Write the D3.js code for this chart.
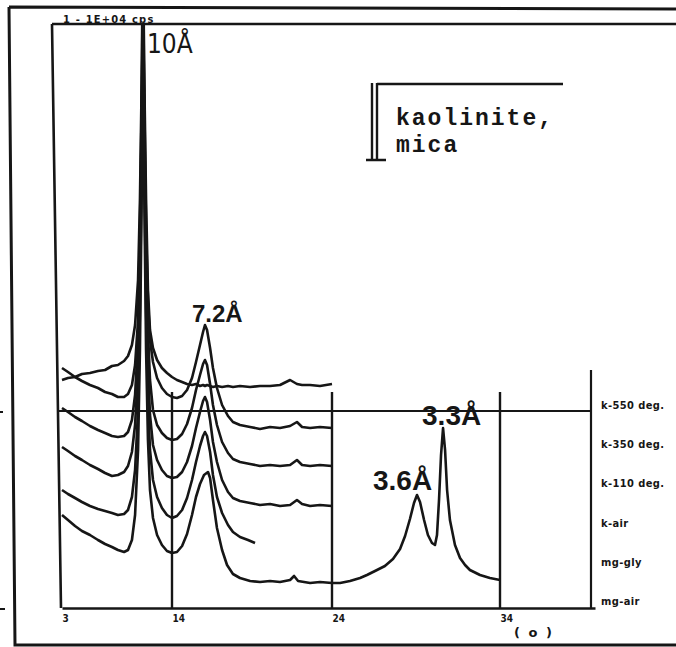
<!DOCTYPE html>
<html>
<head>
<meta charset="utf-8">
<script src="https://cdn.jsdelivr.net/npm/d3@7"></script>
<style>
body { margin: 0; background: #fff; }
svg { display: block; }
</style>
</head>
<body>
<div id="viz"></div>
<script>
// sample names, top trace first
var samples = ['k-550 deg.', 'k-350 deg.', 'k-110 deg.', 'k-air', 'mg-gly', 'mg-air'];

// 2-theta (deg) shared by the four k- scans
var twoTheta = [3.00,3.38,3.83,4.27,4.78,5.29,5.74,6.18,6.56,6.95,7.20,7.45,7.65,7.84,7.96,8.09,8.15,8.22,8.35,8.47,
  8.60,8.79,9.05,9.36,9.68,10.00,10.31,10.63,10.94,11.25,11.50,11.75,11.94,12.06,12.19,12.38,12.56,12.81,13.13,13.50,
  13.81,14.25,14.88,15.50,16.13,16.75,17.38,17.81,18.13,18.63,19.25,20.00];

// intensities (arbitrary units, offset stacked)
var k550 = [228,230,231,234,235,237,238,242,243,247,252,263,283,328,408,548,698,548,408,318,
  278,260,248,240,235,231,228,226,224,223,224,222,223,222,223,222,221,222,221,222,
  221,222,221,222,222,223,228,224,223,223,222,224];
var k350 = [240,236,231,227,223,220,216,214,211,211,214,223,243,288,378,528,698,528,378,308,
  268,246,230,220,214,211,210,212,218,230,246,263,276,283,278,260,240,220,203,192,
  186,183,181,179,181,180,182,186,181,180,181,180];
var k110 = [200,196,191,187,182,178,175,172,171,172,176,188,213,268,358,508,698,508,358,278,
  228,198,183,175,170,168,169,174,184,200,218,233,244,248,243,224,203,183,166,155,
  149,146,144,142,143,142,143,148,143,142,143,142];
var kAir = [161,157,152,148,143,139,135,132,133,136,142,156,183,238,328,488,698,488,328,243,
  193,163,148,138,132,130,131,136,146,162,180,196,207,211,206,188,166,146,128,116,
  110,107,105,103,104,102,103,108,104,102,103,102];

var twoThetaGly = [3.00,3.38,3.83,4.27,4.78,5.29,5.74,6.18,6.56,6.95,7.20,7.45,7.65,7.84,7.96,8.09,8.15,8.22,8.35,8.47,
  8.60,8.79,9.05,9.36,9.68,10.00,10.31,10.63,10.94,11.25,11.50,11.75,11.94,12.06,12.19,12.38,12.56,12.81,13.13,13.50,
  13.81,14.25,14.75,15.19];
var mgGly = [118,114,110,106,102,99,97,95,93,94,98,111,138,198,298,468,698,468,298,208,
  158,128,111,100,93,90,92,98,110,128,146,162,172,176,172,156,133,111,95,83,
  76,71,68,65];

var twoThetaAir = [3.00,3.38,3.83,4.27,4.78,5.29,5.74,6.18,6.56,6.95,7.20,7.45,7.65,7.84,7.96,8.09,8.15,8.22,8.35,8.47,
  8.60,8.79,9.05,9.36,9.68,10.00,10.31,10.63,10.94,11.25,11.50,11.75,12.00,12.25,12.38,12.56,12.81,13.13,13.44,13.81,
  14.25,14.88,15.50,16.13,16.75,17.38,17.63,17.88,18.63,19.25,20.00,20.48,21.07,21.67,22.08,22.56,23.15,23.63,24.05,24.35,
  24.64,24.88,25.06,25.24,25.48,25.71,25.95,26.13,26.25,26.37,26.49,26.61,26.73,26.85,27.02,27.32,27.62,27.92,28.21,28.81,
  29.40,30.00];
var mgAir = [93,88,82,77,73,68,64,61,58,56,58,68,93,158,258,438,698,438,258,168,
  118,90,73,63,57,55,56,62,74,93,111,124,133,136,130,108,80,58,43,34,
  30,27,26,27,26,28,32,27,25,26,25,25,27,30,33,37,42,49,59,72,
  89,105,113,106,88,73,65,63,73,108,153,180,158,118,88,63,50,43,38,33,
  30,28];

var tickValues = [3, 10, 20, 30];
var tickLabels = ['3', '14', '24', '34'];

var peakLabels = ['10Å', '7.2Å', '3.6Å', '3.3Å'];
var peakTheta = [8.15, 12.06, 25.06, 26.61];

var scans = [
  {x: twoTheta, y: k550},
  {x: twoTheta, y: k350},
  {x: twoTheta, y: k110},
  {x: twoTheta, y: kAir},
  {x: twoThetaGly, y: mgGly},
  {x: twoThetaAir, y: mgAir}
];

var ink = '#161616';
var width = 676, height = 647;

var svg = d3.select('#viz').append('svg')
  .attr('width', width)
  .attr('height', height);

// chart paper is a bit stretched, so the 2-theta scale is piecewise
var x = d3.scaleLinear()
  .domain([3, 10, 20, 30, 35.65])
  .range([62, 172, 332, 500, 595]);

var y = d3.scaleLinear()
  .domain([0, 583])
  .range([608, 25]);

// outer frame
svg.append('path')
  .attr('d', 'M9,7 L676,9 M9,7 L15,645 L676,645')
  .attr('fill', 'none').attr('stroke', ink).attr('stroke-width', 3);

// small marks on the far left
svg.append('path')
  .attr('d', 'M0,412 L3,412 M0,609 L5,609')
  .attr('stroke', ink).attr('stroke-width', 2);

// chart top line + left side
svg.append('path')
  .attr('d', 'M52,24 L676,24 M52,24 L61,' + y(0))
  .attr('fill', 'none').attr('stroke', ink).attr('stroke-width', 2.6);

svg.append('text')
  .text('1 - 1E+04 cps')
  .attr('x', 63).attr('y', 23)
  .attr('font-family', 'DejaVu Sans Condensed, DejaVu Sans, sans-serif')
  .attr('font-size', '11px').attr('font-weight', 'bold')
  .attr('letter-spacing', '1.2px')
  .attr('fill', ink);

// bottom axis
var xAxis = d3.axisBottom(x)
  .tickValues(tickValues)
  .tickSize(0)
  .tickPadding(7)
  .tickFormat(function (d, i) { return tickLabels[i]; });

var ax = svg.append('g')
  .attr('transform', 'translate(0,' + y(0) + ')')
  .call(xAxis);

ax.select('.domain').attr('stroke', ink).attr('stroke-width', 2.6);
ax.selectAll('text')
  .attr('text-anchor', 'start')
  .attr('font-family', 'DejaVu Sans Condensed, DejaVu Sans, sans-serif')
  .attr('font-size', '10px').attr('font-weight', 'bold')
  .attr('fill', ink);

// tick bars that rise from the axis
svg.selectAll('.tickbar')
  .data(tickValues.slice(1))
  .enter().append('line')
  .attr('class', 'tickbar')
  .attr('x1', function (d) { return x(d); })
  .attr('x2', function (d) { return x(d); })
  .attr('y1', y(0))
  .attr('y2', 392)
  .attr('stroke', ink).attr('stroke-width', 2.4);

// base reference line and right bracket
svg.append('path')
  .attr('d', 'M58,411 L591,411 M591,370 L591,' + y(0))
  .attr('fill', 'none').attr('stroke', ink).attr('stroke-width', 2.2);

svg.append('text')
  .text('( o )')
  .attr('x', 514).attr('y', 637)
  .attr('font-family', 'DejaVu Sans, sans-serif')
  .attr('font-size', '13px').attr('font-weight', 'bold')
  .attr('letter-spacing', '2px')
  .attr('fill', ink);

// traces
svg.append('clipPath').attr('id', 'plotclip')
  .append('rect').attr('x', 0).attr('y', 25).attr('width', width).attr('height', 590);

var line = d3.line()
  .x(function (d) { return x(d[0]); })
  .y(function (d) { return y(d[1]); });

svg.append('g')
  .attr('clip-path', 'url(#plotclip)')
  .selectAll('path')
  .data(scans)
  .enter().append('path')
  .attr('d', function (s) { return line(d3.zip(s.x, s.y)); })
  .attr('fill', 'none')
  .attr('stroke', ink)
  .attr('stroke-width', 2.6)
  .attr('stroke-linejoin', 'round');

// sample labels at the right
var labelY = d3.scalePoint().domain(samples).range([405, 601]);

svg.selectAll('.sample')
  .data(samples)
  .enter().append('text')
  .attr('class', 'sample')
  .text(function (d) { return d; })
  .attr('x', 601)
  .attr('y', function (d) { return labelY(d) + 4; })
  .attr('font-family', 'DejaVu Sans Condensed, DejaVu Sans, sans-serif')
  .attr('font-size', '11px').attr('font-weight', 'bold')
  .attr('letter-spacing', '0.4px')
  .attr('fill', ink);

// peak annotations, placed just above each apex
var apex = [
  null,
  k350[twoTheta.indexOf(12.06)],
  mgAir[twoThetaAir.indexOf(25.06)],
  mgAir[twoThetaAir.indexOf(26.61)]
];
var peakStyle = [
  {dx: 4, dy: null, size: 26, weight: 'normal', family: 'Liberation Sans Narrow, DejaVu Sans Condensed, sans-serif'},
  {dx: -13, dy: -3, size: 24, weight: 'bold', family: 'Liberation Sans, Arial, sans-serif'},
  {dx: -44, dy: -5, size: 28, weight: 'bold', family: 'Liberation Sans, Arial, sans-serif'},
  {dx: -21, dy: -3, size: 28, weight: 'bold', family: 'Liberation Sans, Arial, sans-serif'}
];

svg.selectAll('.peak')
  .data(peakLabels)
  .enter().append('text')
  .attr('class', 'peak')
  .text(function (d) { return d; })
  .attr('x', function (d, i) { return x(peakTheta[i]) + peakStyle[i].dx; })
  .attr('y', function (d, i) { return i === 0 ? 53 : y(apex[i]) + peakStyle[i].dy; })
  .attr('font-family', function (d, i) { return peakStyle[i].family; })
  .attr('font-size', function (d, i) { return peakStyle[i].size + 'px'; })
  .attr('font-weight', function (d, i) { return peakStyle[i].weight; })
  .attr('fill', ink);

// inset legend box
svg.append('path')
  .attr('d', 'M372,83 L372,160 M377,83 L377,160 M377,84 L563,84 M366,160 L386,160')
  .attr('fill', 'none').attr('stroke', ink).attr('stroke-width', 2.4);

svg.selectAll('.inset')
  .data(['kaolinite,', 'mica'])
  .enter().append('text')
  .attr('class', 'inset')
  .text(function (d) { return d; })
  .attr('x', 396)
  .attr('y', function (d, i) { return 125 + i * 27; })
  .attr('font-family', 'Liberation Mono, DejaVu Sans Mono, monospace')
  .attr('font-size', '23px').attr('font-weight', 'bold')
  .attr('letter-spacing', '2px')
  .attr('fill', ink);
</script>
</body>
</html>
